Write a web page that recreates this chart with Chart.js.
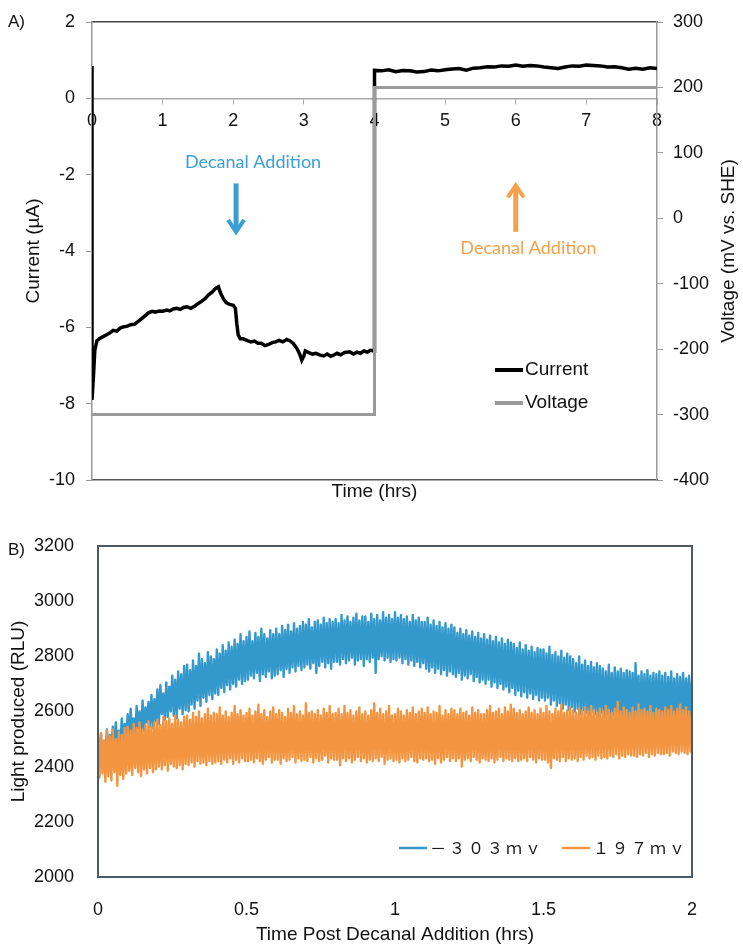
<!DOCTYPE html>
<html>
<head>
<meta charset="utf-8">
<script src="https://cdn.jsdelivr.net/npm/chart.js@4"></script>
<style>
  body { margin: 0; background: #fff; }
  #wrap { position: relative; width: 743px; height: 946px; font-family: "Liberation Sans", Arial, sans-serif; }
  canvas { position: absolute; left: 0; }
  .panel { position: absolute; left: 8px; font-size: 17px; color: #111; }
</style>
</head>
<body>
<div id="wrap">
  <canvas id="current-voltage" width="743" height="510" style="top:0"></canvas>
  <canvas id="light" width="743" height="436" style="top:510px"></canvas>
  <div class="panel" style="top:12px">A)</div>
  <div class="panel" style="top:540px">B)</div>
</div>
<script>
// A) current / voltage vs time
const currentTime = [
  0, 0, 0.02, 0.04, 0.07, 0.11, 0.15, 0.2, 0.25, 0.3,
  0.35, 0.4, 0.44, 0.5, 0.55, 0.6, 0.65, 0.7, 0.75, 0.8,
  0.85, 0.9, 0.95, 1.0, 1.06, 1.1, 1.15, 1.2, 1.25, 1.3,
  1.34, 1.4, 1.45, 1.5, 1.55, 1.6, 1.65, 1.7, 1.75, 1.79,
  1.82, 1.86, 1.9, 1.95, 2.0, 2.03, 2.05, 2.07, 2.1, 2.14,
  2.2, 2.25, 2.3, 2.35, 2.4, 2.45, 2.5, 2.55, 2.6, 2.65,
  2.7, 2.76, 2.8, 2.85, 2.9, 2.94, 2.97, 3.0, 3.02, 3.07,
  3.12, 3.17, 3.23, 3.28, 3.33, 3.38, 3.42, 3.47, 3.52, 3.58,
  3.65, 3.7, 3.75, 3.8, 3.85, 3.9, 3.94, 4.0, 4.0, 4.1,
  4.2, 4.3, 4.4, 4.5, 4.6, 4.7, 4.8, 4.9, 5.0, 5.1,
  5.2, 5.3, 5.4, 5.5, 5.6, 5.7, 5.8, 5.9, 6.0, 6.1,
  6.2, 6.3, 6.4, 6.5, 6.6, 6.7, 6.8, 6.9, 7.0, 7.1,
  7.2, 7.3, 7.4, 7.5, 7.6, 7.7, 7.8, 7.9, 8.0
];
const currentUa = [
  0.85, -7.9, -7.3, -6.6, -6.35, -6.29, -6.25, -6.2, -6.15, -6.08,
  -6.1, -6.02, -5.99, -5.97, -5.93, -5.92, -5.85, -5.78, -5.7, -5.62,
  -5.58, -5.6, -5.57, -5.58, -5.55, -5.57, -5.52, -5.5, -5.53, -5.48,
  -5.46, -5.5, -5.45, -5.38, -5.32, -5.25, -5.15, -5.08, -4.98, -4.94,
  -5.1, -5.25, -5.35, -5.4, -5.42, -5.5, -5.9, -6.2, -6.3, -6.3,
  -6.35, -6.38, -6.36, -6.42, -6.42, -6.48, -6.45, -6.4, -6.38, -6.34,
  -6.38, -6.32, -6.35, -6.42, -6.55, -6.7, -6.86, -6.75, -6.62, -6.66,
  -6.7, -6.68, -6.73, -6.75, -6.7, -6.76, -6.73, -6.68, -6.72, -6.66,
  -6.64, -6.7, -6.65, -6.68, -6.62, -6.65, -6.6, -6.62, 0.73, 0.72,
  0.75, 0.7, 0.73, 0.72, 0.69, 0.7, 0.74, 0.72, 0.75, 0.77,
  0.78, 0.74, 0.79, 0.8, 0.83, 0.82, 0.85, 0.84, 0.87, 0.84,
  0.86, 0.85, 0.82, 0.8, 0.78, 0.82, 0.85, 0.84, 0.87, 0.86,
  0.85, 0.82, 0.83, 0.8, 0.76, 0.79, 0.76, 0.8, 0.78
];
const voltageTime = [0, 4, 4, 8];
const voltageMv = [-300, -300, 200, 200];

const noteText = "Decanal Addition";
const noteTime = [2.28, 6.18];
const noteCurrent = [-1.68, -3.93];
const arrowTime = [2.04, 6.0];
const arrowTailCurrent = [-2.23, -3.5];
const arrowHeadCurrent = [-3.5, -2.28];
const noteColors = ["#3a9fd5", "#f6a04a"];

// B) light vs time after decanal, one reading every 0.005 h
const lightTime = [
  0, 0.005, 0.01, 0.015, 0.02, 0.025, 0.03, 0.035, 0.04, 0.045, 0.05, 0.055, 0.06, 0.065, 0.07, 0.075, 0.08, 0.085, 0.09, 0.095,
  0.1, 0.105, 0.11, 0.115, 0.12, 0.125, 0.13, 0.135, 0.14, 0.145, 0.15, 0.155, 0.16, 0.165, 0.17, 0.175, 0.18, 0.185, 0.19, 0.195,
  0.2, 0.205, 0.21, 0.215, 0.22, 0.225, 0.23, 0.235, 0.24, 0.245, 0.25, 0.255, 0.26, 0.265, 0.27, 0.275, 0.28, 0.285, 0.29, 0.295,
  0.3, 0.305, 0.31, 0.315, 0.32, 0.325, 0.33, 0.335, 0.34, 0.345, 0.35, 0.355, 0.36, 0.365, 0.37, 0.375, 0.38, 0.385, 0.39, 0.395,
  0.4, 0.405, 0.41, 0.415, 0.42, 0.425, 0.43, 0.435, 0.44, 0.445, 0.45, 0.455, 0.46, 0.465, 0.47, 0.475, 0.48, 0.485, 0.49, 0.495,
  0.5, 0.505, 0.51, 0.515, 0.52, 0.525, 0.53, 0.535, 0.54, 0.545, 0.55, 0.555, 0.56, 0.565, 0.57, 0.575, 0.58, 0.585, 0.59, 0.595,
  0.6, 0.605, 0.61, 0.615, 0.62, 0.625, 0.63, 0.635, 0.64, 0.645, 0.65, 0.655, 0.66, 0.665, 0.67, 0.675, 0.68, 0.685, 0.69, 0.695,
  0.7, 0.705, 0.71, 0.715, 0.72, 0.725, 0.73, 0.735, 0.74, 0.745, 0.75, 0.755, 0.76, 0.765, 0.77, 0.775, 0.78, 0.785, 0.79, 0.795,
  0.8, 0.805, 0.81, 0.815, 0.82, 0.825, 0.83, 0.835, 0.84, 0.845, 0.85, 0.855, 0.86, 0.865, 0.87, 0.875, 0.88, 0.885, 0.89, 0.895,
  0.9, 0.905, 0.91, 0.915, 0.92, 0.925, 0.93, 0.935, 0.94, 0.945, 0.95, 0.955, 0.96, 0.965, 0.97, 0.975, 0.98, 0.985, 0.99, 0.995,
  1.0, 1.005, 1.01, 1.015, 1.02, 1.025, 1.03, 1.035, 1.04, 1.045, 1.05, 1.055, 1.06, 1.065, 1.07, 1.075, 1.08, 1.085, 1.09, 1.095,
  1.1, 1.105, 1.11, 1.115, 1.12, 1.125, 1.13, 1.135, 1.14, 1.145, 1.15, 1.155, 1.16, 1.165, 1.17, 1.175, 1.18, 1.185, 1.19, 1.195,
  1.2, 1.205, 1.21, 1.215, 1.22, 1.225, 1.23, 1.235, 1.24, 1.245, 1.25, 1.255, 1.26, 1.265, 1.27, 1.275, 1.28, 1.285, 1.29, 1.295,
  1.3, 1.305, 1.31, 1.315, 1.32, 1.325, 1.33, 1.335, 1.34, 1.345, 1.35, 1.355, 1.36, 1.365, 1.37, 1.375, 1.38, 1.385, 1.39, 1.395,
  1.4, 1.405, 1.41, 1.415, 1.42, 1.425, 1.43, 1.435, 1.44, 1.445, 1.45, 1.455, 1.46, 1.465, 1.47, 1.475, 1.48, 1.485, 1.49, 1.495,
  1.5, 1.505, 1.51, 1.515, 1.52, 1.525, 1.53, 1.535, 1.54, 1.545, 1.55, 1.555, 1.56, 1.565, 1.57, 1.575, 1.58, 1.585, 1.59, 1.595,
  1.6, 1.605, 1.61, 1.615, 1.62, 1.625, 1.63, 1.635, 1.64, 1.645, 1.65, 1.655, 1.66, 1.665, 1.67, 1.675, 1.68, 1.685, 1.69, 1.695,
  1.7, 1.705, 1.71, 1.715, 1.72, 1.725, 1.73, 1.735, 1.74, 1.745, 1.75, 1.755, 1.76, 1.765, 1.77, 1.775, 1.78, 1.785, 1.79, 1.795,
  1.8, 1.805, 1.81, 1.815, 1.82, 1.825, 1.83, 1.835, 1.84, 1.845, 1.85, 1.855, 1.86, 1.865, 1.87, 1.875, 1.88, 1.885, 1.89, 1.895,
  1.9, 1.905, 1.91, 1.915, 1.92, 1.925, 1.93, 1.935, 1.94, 1.945, 1.95, 1.955, 1.96, 1.965, 1.97, 1.975, 1.98, 1.985, 1.99, 1.995,
  2.0
];
const rluMinus303 = [
  2505, 2440, 2520, 2425, 2490, 2455, 2535, 2430, 2515, 2470, 2545, 2450, 2560, 2480, 2530, 2465, 2575, 2490, 2555, 2500,
  2590, 2495, 2610, 2520, 2575, 2505, 2620, 2540, 2600, 2515, 2640, 2530, 2615, 2560, 2635, 2545, 2660, 2540, 2645, 2565,
  2680, 2555, 2695, 2590, 2665, 2570, 2705, 2580, 2690, 2600, 2730, 2585, 2715, 2575, 2745, 2610, 2735, 2590, 2765, 2605,
  2770, 2600, 2750, 2625, 2785, 2610, 2765, 2640, 2810, 2620, 2790, 2650, 2775, 2635, 2815, 2660, 2800, 2645, 2790, 2665,
  2825, 2660, 2810, 2685, 2840, 2670, 2820, 2695, 2850, 2680, 2835, 2700, 2860, 2690, 2845, 2715, 2880, 2700, 2855, 2710,
  2870, 2715, 2890, 2730, 2855, 2720, 2885, 2740, 2870, 2710, 2900, 2735, 2880, 2725, 2865, 2745, 2895, 2720, 2880, 2730,
  2900, 2735, 2880, 2750, 2910, 2725, 2895, 2755, 2915, 2740, 2890, 2760, 2920, 2745, 2900, 2765, 2910, 2750, 2925, 2760,
  2915, 2770, 2935, 2755, 2905, 2775, 2925, 2740, 2930, 2765, 2915, 2780, 2940, 2760, 2920, 2775, 2935, 2755, 2925, 2780,
  2935, 2780, 2920, 2770, 2950, 2790, 2930, 2775, 2945, 2785, 2925, 2795, 2940, 2770, 2955, 2785, 2930, 2790, 2945, 2765,
  2945, 2790, 2925, 2780, 2955, 2795, 2935, 2740, 2950, 2790, 2930, 2800, 2960, 2785, 2940, 2795, 2950, 2780, 2935, 2790,
  2960, 2785, 2940, 2795, 2950, 2775, 2935, 2790, 2945, 2770, 2925, 2785, 2950, 2765, 2930, 2780, 2940, 2760, 2925, 2775,
  2925, 2755, 2940, 2745, 2915, 2760, 2930, 2740, 2910, 2755, 2925, 2735, 2905, 2750, 2920, 2730, 2900, 2745, 2915, 2735,
  2905, 2725, 2885, 2740, 2900, 2715, 2880, 2730, 2895, 2720, 2875, 2735, 2890, 2710, 2870, 2725, 2885, 2705, 2865, 2715,
  2880, 2700, 2860, 2715, 2875, 2690, 2855, 2705, 2870, 2685, 2850, 2700, 2865, 2680, 2845, 2690, 2860, 2670, 2850, 2685,
  2845, 2660, 2830, 2675, 2850, 2655, 2825, 2670, 2840, 2650, 2820, 2665, 2835, 2645, 2815, 2660, 2830, 2640, 2825, 2650,
  2825, 2640, 2810, 2650, 2835, 2625, 2805, 2640, 2815, 2620, 2800, 2630, 2820, 2610, 2795, 2625, 2810, 2605, 2800, 2615,
  2790, 2600, 2775, 2610, 2800, 2590, 2770, 2605, 2785, 2595, 2765, 2585, 2780, 2600, 2760, 2590, 2775, 2580, 2765, 2595,
  2755, 2580, 2745, 2590, 2770, 2575, 2740, 2585, 2760, 2570, 2745, 2580, 2755, 2565, 2740, 2580, 2750, 2570, 2745, 2575,
  2740, 2565, 2775, 2575, 2730, 2560, 2745, 2570, 2735, 2565, 2750, 2575, 2730, 2560, 2740, 2570, 2735, 2565, 2745, 2575,
  2730, 2570, 2740, 2560, 2725, 2575, 2745, 2570, 2720, 2580, 2735, 2565, 2725, 2580, 2740, 2575, 2720, 2585, 2730, 2580,
  2715
];
const rlu197 = [
  2505, 2360, 2520, 2375, 2495, 2345, 2530, 2365, 2510, 2350, 2535, 2380, 2500, 2330, 2525, 2370, 2515, 2355, 2540, 2375,
  2545, 2385, 2530, 2370, 2555, 2395, 2540, 2380, 2560, 2365, 2535, 2390, 2550, 2375, 2565, 2395, 2545, 2380, 2560, 2390,
  2570, 2400, 2550, 2390, 2580, 2405, 2565, 2385, 2575, 2410, 2555, 2400, 2585, 2395, 2570, 2405, 2560, 2390, 2580, 2410,
  2585, 2405, 2570, 2415, 2595, 2400, 2580, 2420, 2600, 2410, 2575, 2415, 2590, 2405, 2610, 2420, 2585, 2410, 2595, 2415,
  2590, 2420, 2615, 2410, 2585, 2425, 2600, 2415, 2580, 2430, 2595, 2410, 2620, 2425, 2590, 2415, 2605, 2430, 2585, 2420,
  2595, 2420, 2610, 2425, 2585, 2415, 2600, 2430, 2625, 2420, 2590, 2410, 2605, 2425, 2580, 2435, 2600, 2415, 2615, 2425,
  2590, 2425, 2605, 2410, 2595, 2430, 2580, 2420, 2610, 2425, 2595, 2435, 2620, 2415, 2590, 2430, 2600, 2420, 2585, 2425,
  2630, 2420, 2595, 2435, 2600, 2415, 2590, 2430, 2605, 2420, 2585, 2425, 2610, 2440, 2595, 2415, 2620, 2430, 2590, 2425,
  2595, 2425, 2610, 2405, 2590, 2430, 2620, 2420, 2595, 2430, 2605, 2415, 2585, 2425, 2600, 2435, 2615, 2420, 2590, 2430,
  2600, 2415, 2585, 2425, 2605, 2420, 2630, 2430, 2595, 2420, 2610, 2435, 2590, 2410, 2600, 2425, 2620, 2430, 2585, 2420,
  2590, 2425, 2610, 2415, 2600, 2430, 2585, 2420, 2605, 2425, 2595, 2435, 2615, 2420, 2590, 2415, 2600, 2430, 2610, 2425,
  2595, 2430, 2615, 2420, 2590, 2425, 2600, 2410, 2595, 2430, 2620, 2415, 2585, 2425, 2605, 2435, 2590, 2420, 2610, 2430,
  2605, 2420, 2590, 2430, 2610, 2400, 2595, 2425, 2600, 2430, 2585, 2420, 2615, 2435, 2595, 2425, 2605, 2415, 2590, 2430,
  2590, 2425, 2605, 2420, 2620, 2430, 2595, 2415, 2600, 2425, 2610, 2435, 2590, 2420, 2615, 2430, 2600, 2425, 2625, 2420,
  2610, 2430, 2595, 2420, 2605, 2425, 2590, 2430, 2600, 2420, 2615, 2435, 2595, 2425, 2605, 2415, 2590, 2430, 2610, 2425,
  2595, 2425, 2620, 2415, 2600, 2395, 2590, 2430, 2610, 2425, 2600, 2420, 2625, 2435, 2595, 2420, 2605, 2430, 2615, 2425,
  2605, 2430, 2595, 2420, 2610, 2435, 2600, 2425, 2615, 2440, 2600, 2430, 2620, 2435, 2605, 2425, 2595, 2440, 2610, 2430,
  2600, 2435, 2620, 2430, 2605, 2440, 2595, 2435, 2610, 2445, 2635, 2430, 2600, 2440, 2615, 2435, 2605, 2445, 2595, 2440,
  2615, 2440, 2600, 2435, 2625, 2445, 2605, 2440, 2610, 2450, 2600, 2435, 2620, 2445, 2595, 2440, 2610, 2450, 2605, 2445,
  2600, 2445, 2615, 2450, 2605, 2440, 2620, 2455, 2600, 2450, 2610, 2445, 2625, 2455, 2605, 2450, 2615, 2445, 2600, 2455,
  2600
];

Chart.defaults.font.family = "'Liberation Sans', Arial, sans-serif";
Chart.defaults.color = "#111";
Chart.defaults.animation = false;

const toPoints = (xs, ys) => xs.map((x, i) => ({ x: x, y: ys[i] }));

const topExtras = {
  id: "topExtras",
  afterDatasetsDraw(chart) {
    const { ctx, chartArea, scales } = chart;
    ctx.save();
    noteTime.forEach((t, i) => {
      ctx.fillStyle = noteColors[i];
      ctx.font = "18px Lato";
      ctx.textAlign = "center";
      ctx.textBaseline = "middle";
      ctx.fillText(noteText, scales.x.getPixelForValue(t), scales.y.getPixelForValue(noteCurrent[i]));

      const ax = scales.x.getPixelForValue(arrowTime[i]);
      const y0 = scales.y.getPixelForValue(arrowTailCurrent[i]);
      const y1 = scales.y.getPixelForValue(arrowHeadCurrent[i]);
      const dir = y1 > y0 ? 1 : -1;
      ctx.strokeStyle = noteColors[i];
      ctx.lineWidth = 5;
      ctx.beginPath();
      ctx.moveTo(ax, y0);
      ctx.lineTo(ax, y1 - dir * 3);
      ctx.stroke();
      ctx.lineWidth = 4;
      ctx.beginPath();
      ctx.moveTo(ax - 8, y1 - dir * 12);
      ctx.lineTo(ax, y1);
      ctx.lineTo(ax + 8, y1 - dir * 12);
      ctx.stroke();
    });

    // legend inside the plot
    chart.data.datasets.forEach((ds, i) => {
      const ly = chartArea.top + 348 + i * 33;
      const lx = chartArea.left + 403;
      ctx.strokeStyle = ds.borderColor;
      ctx.lineWidth = 4;
      ctx.beginPath();
      ctx.moveTo(lx, ly);
      ctx.lineTo(lx + 28, ly);
      ctx.stroke();
      ctx.fillStyle = "#111";
      ctx.font = "19px 'Liberation Sans', Arial, sans-serif";
      ctx.textAlign = "left";
      ctx.textBaseline = "middle";
      ctx.fillText(ds.label, lx + 30, ly);
    });

    // right axis title, reading upwards
    ctx.translate(scales.y1.right - 14, (chartArea.top + chartArea.bottom) / 2);
    ctx.rotate(-Math.PI / 2);
    ctx.textAlign = "center";
    ctx.fillText("Voltage (mV vs. SHE)", 0, 0);
    ctx.restore();
  },
};

new Chart(document.getElementById("current-voltage"), {
  type: "line",
  data: {
    datasets: [
      {
        label: "Current",
        data: toPoints(currentTime, currentUa),
        borderColor: "#000",
        borderWidth: 3.5,
        pointRadius: 0,
        yAxisID: "y",
        order: 1,
      },
      {
        label: "Voltage",
        data: toPoints(voltageTime, voltageMv),
        borderColor: "#9a9a9a",
        borderWidth: 3,
        pointRadius: 0,
        yAxisID: "y1",
        order: 0,
      },
    ],
  },
  options: {
    responsive: false,
    layout: { padding: 0 },
    plugins: { legend: { display: false }, tooltip: { enabled: false } },
    scales: {
      x: {
        type: "linear",
        position: { y: 0 },
        min: 0,
        max: 8,
        ticks: { stepSize: 1, padding: 7, font: { size: 18 } },
        grid: { drawOnChartArea: false, tickLength: 5, color: "#aaa" },
        border: { color: "#aaa", width: 1.5 },
      },
      xBottom: {
        type: "linear",
        position: "bottom",
        min: 0,
        max: 8,
        ticks: { display: false },
        grid: { display: false },
        border: { color: "#555", width: 1.5 },
        title: { display: true, text: "Time (hrs)", font: { size: 19 }, padding: { top: 0, bottom: 7 } },
        afterFit: (s) => { s.height = 30; },
      },
      xTop: {
        type: "linear",
        position: "top",
        min: 0,
        max: 8,
        ticks: { display: false },
        grid: { display: false },
        border: { color: "#444", width: 1.5 },
        afterFit: (s) => { s.height = 22; },
      },
      y: {
        position: "left",
        min: -10,
        max: 2,
        ticks: { stepSize: 2, padding: 11, font: { size: 18 } },
        grid: { drawOnChartArea: false, tickLength: 6, color: "#999" },
        border: { color: "#999", width: 1.5 },
        title: { display: true, text: "Current (µA)", font: { size: 19 }, padding: { top: 22, bottom: 0 } },
        afterFit: (s) => { s.width = 92; },
      },
      y1: {
        position: "right",
        min: -400,
        max: 300,
        ticks: { stepSize: 100, padding: 10, font: { size: 18 } },
        grid: { drawOnChartArea: false, tickLength: 6, color: "#999" },
        border: { color: "#999", width: 1.5 },
        afterFit: (s) => { s.width = 86; },
      },
    },
  },
  plugins: [topExtras],
});

const lightExtras = {
  id: "lightExtras",
  afterDatasetsDraw(chart) {
    const { ctx, chartArea } = chart;
    ctx.save();
    ctx.strokeStyle = "#4d5b66";
    ctx.lineWidth = 2;
    ctx.strokeRect(chartArea.left, chartArea.top, chartArea.right - chartArea.left, chartArea.bottom - chartArea.top);

    const ly = chartArea.bottom - 29;
    const starts = [chartArea.right - 293, chartArea.right - 130];
    chart.data.datasets.forEach((ds, i) => {
      ctx.strokeStyle = ds.borderColor;
      ctx.lineWidth = 2.5;
      ctx.beginPath();
      ctx.moveTo(starts[i], ly);
      ctx.lineTo(starts[i] + 28, ly);
      ctx.stroke();
      ctx.fillStyle = "#1a1a1a";
      ctx.font = "16px 'Noto Sans CJK JP'";
      ctx.letterSpacing = "3px";
      ctx.textAlign = "left";
      ctx.textBaseline = "middle";
      ctx.fillText(ds.label, starts[i] + 31, ly);
    });
    ctx.restore();
  },
};

const plainNumber = (v) => String(v);

new Chart(document.getElementById("light"), {
  type: "line",
  data: {
    datasets: [
      {
        label: "－３０３ｍｖ",
        data: toPoints(lightTime, rluMinus303),
        borderColor: "#3399cc",
        borderWidth: 2.4,
        borderJoinStyle: "round",
        pointRadius: 0,
        order: 1,
      },
      {
        label: "１９７ｍｖ",
        data: toPoints(lightTime, rlu197),
        borderColor: "#f39540",
        borderWidth: 2.4,
        borderJoinStyle: "round",
        pointRadius: 0,
        order: 0,
      },
    ],
  },
  options: {
    responsive: false,
    layout: { padding: { top: 36, right: 51 } },
    plugins: { legend: { display: false }, tooltip: { enabled: false } },
    scales: {
      x: {
        type: "linear",
        min: 0,
        max: 2,
        ticks: { stepSize: 0.5, padding: 14, font: { size: 18 }, callback: plainNumber },
        grid: { display: false },
        border: { display: false },
        title: { display: true, text: "Time Post Decanal Addition (hrs)", font: { size: 19 }, padding: { top: 0, bottom: 0 } },
        afterFit: (s) => { s.height = 69; },
      },
      y: {
        min: 2000,
        max: 3200,
        ticks: { stepSize: 200, padding: 16, font: { size: 18 }, callback: plainNumber },
        grid: { display: false },
        border: { display: false },
        title: { display: true, text: "Light produced (RLU)", font: { size: 19 }, padding: { top: 7, bottom: 0 } },
        afterFit: (s) => { s.width = 98; },
      },
    },
  },
  plugins: [lightExtras],
});
</script>
</body>
</html>
